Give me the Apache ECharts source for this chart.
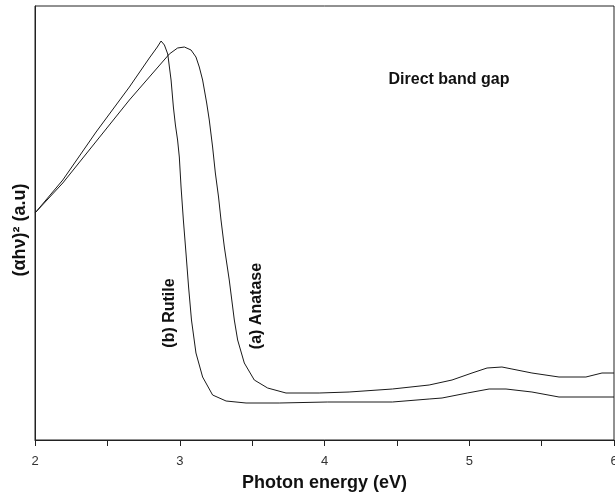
<!DOCTYPE html>
<html>
<head>
<meta charset="utf-8">
<script src="https://cdn.jsdelivr.net/npm/echarts@6/dist/echarts.min.js"></script>
<style>
html,body{margin:0;padding:0;background:#fff;}
#chart{width:615px;height:497px;}
</style>
</head>
<body>
<div id="chart"></div>
<script>
// Photon energy (eV)
const rutileEnergy = [2.000,2.192,2.422,2.652,2.790,2.845,2.871,2.894,2.917,2.940,2.956,2.970,2.985,2.997,3.009,3.025,3.043,3.061,3.081,3.112,3.158,3.227,3.320,3.458,3.687,4.019,4.469,4.723,4.812,4.987,5.137,5.254,5.433,5.620,5.986,6.000];
const rutileValue  = [227,260,308,353,382,393,399,395,386,360,333,315,300,283,253,220,187,153,120,87,63,45,39,37,37,38,38,41,42,47,51,51,48,43,43,43];

const anataseEnergy = [2.000,2.192,2.652,2.790,2.928,2.985,3.032,3.078,3.112,3.135,3.158,3.186,3.204,3.227,3.246,3.268,3.285,3.308,3.342,3.377,3.400,3.446,3.515,3.607,3.734,3.963,4.170,4.469,4.723,4.881,5.019,5.123,5.226,5.295,5.433,5.620,5.806,5.917,6.000];
const anataseValue  = [227,257,340,363,386,392,393,390,383,373,360,337,320,293,267,243,220,193,160,120,100,77,60,52,47,47,48,51,55,60,67,72,73,71,67,63,63,67,67];

const xTicks = [2,3,4,5,6];

const toPairs = (xs, ys) => xs.map((x, i) => [x, ys[i]]);

const chart = echarts.init(document.getElementById('chart'), null, {renderer: 'canvas'});
const font = '"Liberation Sans", Arial, sans-serif';
const lineStyle = {color: '#1a1a1a', width: 1};

chart.setOption({
  animation: false,
  backgroundColor: '#fff',
  grid: {left: 35, right: 1, top: 6, bottom: 57, show: true, borderColor: '#222', borderWidth: 1,
         containLabel: false, outerBoundsMode: 'none'},
  xAxis: {
    type: 'value', min: xTicks[0], max: xTicks[xTicks.length - 1], interval: 1,
    axisLine: {show: true, lineStyle: {color: '#222', width: 1}},
    axisTick: {show: true, length: 6, lineStyle: {color: '#222'}},
    minorTick: {show: true, splitNumber: 2, length: 6, lineStyle: {color: '#222'}},
    splitLine: {show: false},
    axisLabel: {color: '#333', fontFamily: font, fontSize: 13, margin: 15},
    name: 'Photon energy (eV)', nameLocation: 'middle', nameGap: 43,
    nameTextStyle: {color: '#111', fontFamily: font, fontSize: 18, fontWeight: 'bold', verticalAlign: 'middle'}
  },
  yAxis: {
    type: 'value', min: 0, max: 434,
    axisLine: {show: true, lineStyle: {color: '#222', width: 1}},
    axisTick: {show: false}, axisLabel: {show: false}, splitLine: {show: false}
  },
  series: [
    {type: 'line', name: '(b) Rutile', data: toPairs(rutileEnergy, rutileValue), showSymbol: false, smooth: false, lineStyle: lineStyle},
    {type: 'line', name: '(a) Anatase', data: toPairs(anataseEnergy, anataseValue), showSymbol: false, smooth: false, lineStyle: lineStyle}
  ],
  graphic: [
    {type: 'text', x: 20, y: 230, rotation: Math.PI / 2,
     style: {text: '(αhν)² (a.u)', font: 'bold 18px ' + font, fill: '#111', align: 'center', verticalAlign: 'middle'}},
    {type: 'text', x: 449, y: 80,
     style: {text: 'Direct band gap', font: 'bold 16px ' + font, fill: '#111', align: 'center', verticalAlign: 'middle'}},
    {type: 'text', x: 170, y: 313, rotation: Math.PI / 2,
     style: {text: '(b) Rutile', font: 'bold 16px ' + font, fill: '#111', align: 'center', verticalAlign: 'middle'}},
    {type: 'text', x: 257, y: 306, rotation: Math.PI / 2,
     style: {text: '(a) Anatase', font: 'bold 16px ' + font, fill: '#111', align: 'center', verticalAlign: 'middle'}}
  ]
});
</script>
</body>
</html>
